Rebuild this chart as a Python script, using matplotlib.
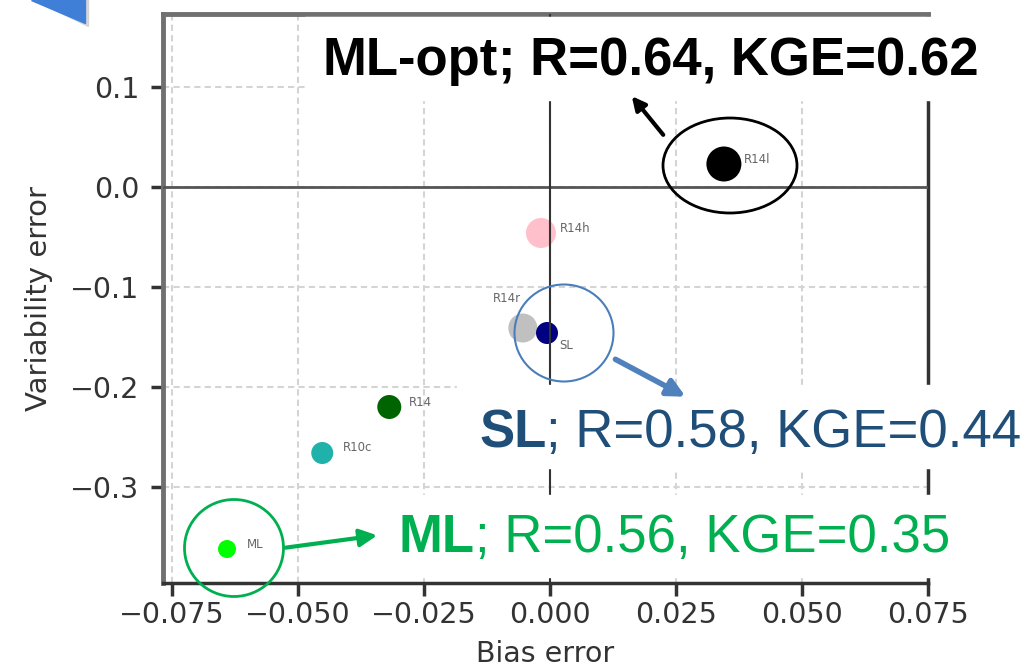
import numpy as np
import matplotlib
matplotlib.use("Agg")
import matplotlib.pyplot as plt
from matplotlib.patches import Ellipse, Rectangle, Polygon

# ==========================================
# 1. DATA
# ==========================================
names = ["R14l", "R14h", "R14r", "SL", "R14", "R10c", "ML"]
bias_error = [0.0345, -0.0018, -0.0054, -0.0006, -0.0319, -0.0452, -0.0641]
variability_error = [0.023, -0.046, -0.141, -0.146, -0.220, -0.266, -0.362]

x_ticks = [-0.075, -0.050, -0.025, 0.000, 0.025, 0.050, 0.075]
y_ticks = [0.1, 0.0, -0.1, -0.2, -0.3]

callout_names = ["ML-opt", "SL", "ML"]
callout_r = [0.64, 0.58, 0.56]
callout_kge = [0.62, 0.44, 0.35]

# styling
point_colors = ["black", "pink", "silver", "navy", "darkgreen", "lightseagreen", "lime"]
point_px = [35, 30, 29, 22, 24, 22, 18]           # marker diameter in px
label_off_px = [(20, -4), (19, -4), (-30, -29), (12, 13), (20, -4), (21, -5), (20, -4)]

W, H = 1029, 671
fig = plt.figure(figsize=(W / 100, H / 100), dpi=100)

# ==========================================
# 2. THE SCATTER AXES
# ==========================================
left, right, top, bottom = 163, 928, 14, 583
ax = fig.add_axes([left / W, 1 - bottom / H, (right - left) / W, (bottom - top) / H])
ax.set_xlim(-0.0768, 0.075)
ax.set_ylim(-0.396, 0.173)

ax.grid(True, color="#d4d4d4", linestyle=(0, (3, 2)), linewidth=1.5, zorder=0)
ax.set_axisbelow(True)
ax.axhline(0, color="#555555", lw=2, zorder=3)
ax.axvline(0, color="#333333", lw=1.5, zorder=3)

for i, name in enumerate(names):
    s = (point_px[i] * 0.72) ** 2
    ax.scatter(bias_error[i], variability_error[i], s=s, color=point_colors[i],
               edgecolors="none", zorder=2)
    dx, dy = label_off_px[i]
    ax.annotate(name, (bias_error[i], variability_error[i]),
                xytext=(dx * 0.72, -dy * 0.72), textcoords="offset points",
                ha="left", va="center", fontsize=8.5, color="#666666", zorder=4)

ax.set_xticks(x_ticks)
ax.set_yticks(y_ticks)
ax.set_xticklabels([f"{v:.3f}".replace("-", "\u2212") for v in x_ticks])
ax.set_yticklabels([f"{v:.1f}".replace("-", "\u2212") for v in y_ticks])
ax.tick_params(axis="both", labelsize=20.5, labelcolor="#333333", color="#333333",
               length=9, width=2.5)
ax.tick_params(axis="y", pad=8)
ax.tick_params(axis="x", pad=4)
ax.set_xlabel("Bias error", fontsize=20.5, color="#333333", labelpad=8)
ax.set_ylabel("Variability error", fontsize=21, color="#333333", labelpad=12)

for side in ["left", "top"]:
    ax.spines[side].set_color("#707070")
    ax.spines[side].set_linewidth(3.5)
for side in ["bottom", "right"]:
    ax.spines[side].set_color("#333333")
    ax.spines[side].set_linewidth(2.5)

# ==========================================
# 3. SLIDE OVERLAYS (pixel coordinates)
# ==========================================
ov = fig.add_axes([0, 0, 1, 1], zorder=10)
ov.set_xlim(0, W)
ov.set_ylim(H, 0)
ov.patch.set_alpha(0)
ov.axis("off")

# blue corner shape
ov.add_patch(Polygon([(34, 0), (88, 0), (88, 26)], closed=True, color="#b8b8b8", alpha=0.5))
ov.add_patch(Polygon([(31, 0), (85, 0), (85, 23)], closed=True, color="#3f7fd8"))

# white boxes behind the callout text
ov.add_patch(Rectangle((305, 17), 705, 83, color="white"))
ov.add_patch(Rectangle((457, 385), W - 457, 83, color="white"))
ov.add_patch(Rectangle((388, 495), 572, 82, color="white"))

# circles round the points
ov.add_patch(Ellipse((730, 165.5), 134, 95, fill=False, ec="black", lw=2))
ov.add_patch(Ellipse((564, 333), 99, 97, fill=False, ec="#4a7ebb", lw=1.5))
ov.add_patch(Ellipse((234, 548), 99, 97, fill=False, ec="#00b050", lw=2))

# arrows
ov.annotate("", xy=(630, 94), xytext=(665, 137),
            arrowprops=dict(arrowstyle="-|>", lw=3, color="black", mutation_scale=20))
ov.annotate("", xy=(688, 398), xytext=(613, 358),
            arrowprops=dict(arrowstyle="-|>", lw=4, color="#4f81bd", mutation_scale=26))
ov.annotate("", xy=(380, 535), xytext=(283, 548),
            arrowprops=dict(arrowstyle="-|>", lw=3, color="#00b050", mutation_scale=26))

# callout texts (bold name, regular stats)
callout_pos = [(323, 75), (479, 447), (399, 552)]
callout_color = ["black", "#1f4e79", "#00b050"]
callout_rest_bold = [True, False, False]
for i, nm in enumerate(callout_names):
    x0, y0 = callout_pos[i]
    t1 = ov.text(x0, y0, nm, fontsize=38, fontweight="bold", color=callout_color[i],
                 family="Liberation Sans", ha="left", va="baseline")
    rest = f"; R={callout_r[i]:.2f}, KGE={callout_kge[i]:.2f}"
    ov.annotate(rest, xy=(1, 0), xycoords=t1, ha="left", va="bottom",
                fontsize=38, color=callout_color[i], family="Liberation Sans",
                fontweight="bold" if callout_rest_bold[i] else "normal")

fig.savefig("out.png", dpi=100)
